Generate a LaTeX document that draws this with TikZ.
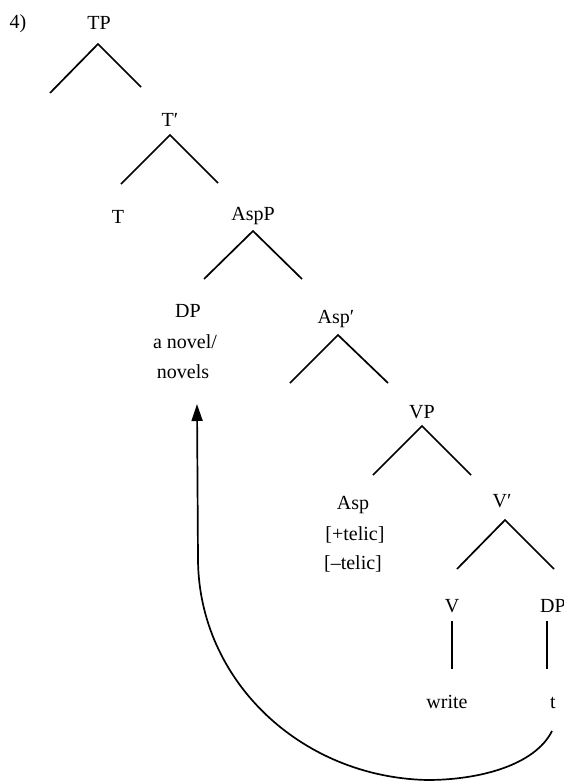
\documentclass[tikz,border=0pt]{standalone}
\usepackage{fontspec}
\setmainfont{Liberation Serif}
\usetikzlibrary{arrows.meta}
\begin{document}
\begin{tikzpicture}[x=1pt,y=-1pt,
  lab/.style={anchor=base,inner sep=0pt,font=\fontsize{20}{24}\selectfont},
  branch/.style={line width=1.7pt,line cap=butt},
  move/.style={line width=1.7pt,-{Triangle[length=17pt,width=11pt]}}]
\clip (0,0) rectangle (564,782);
\useasboundingbox (0,0) rectangle (564,782);
% labels
\node[lab] (num) at (18,28) {4)};
\node[lab] (TP) at (99,29) {TP};
\node[lab] (Tbar) at (170,126) {T′};
\node[lab] (T) at (118,223) {T};
\node[lab] (AspP) at (253,220) {AspP};
\node[lab] (DP) at (188,317) {DP};
\node[lab] (nov1) at (185,348) {a novel/};
\node[lab] (nov2) at (183,378) {novels};
\node[lab] (Aspbar) at (336,323) {Asp′};
\node[lab] (VP) at (422,418) {VP};
\node[lab] (Asp) at (353,509) {Asp};
\node[lab] (tel1) at (355,540) {[+telic]};
\node[lab] (tel2) at (353,569) {[–telic]};
\node[lab] (Vbar) at (502,507) {V′};
\node[lab] (V) at (452,612) {V};
\node[lab] (DPt) at (553,612) {DP};
\node[lab] (write) at (447,708) {write};
\node[lab] (t) at (553,708) {t};
% branch points
\coordinate (TPa) at (98,44);   \coordinate (TPl) at (50,93);   \coordinate (TPr) at (141,87);
\coordinate (Tba) at (170,135); \coordinate (Tbl) at (121,184); \coordinate (Tbr) at (218,183);
\coordinate (APa) at (253,231); \coordinate (APl) at (204,279); \coordinate (APr) at (302,279);
\coordinate (Aba) at (338,335); \coordinate (Abl) at (290,383); \coordinate (Abr) at (388,383);
\coordinate (VPa) at (422,426); \coordinate (VPl) at (373,475); \coordinate (VPr) at (471,475);
\coordinate (Vba) at (505,520); \coordinate (Vbl) at (457,569); \coordinate (Vbr) at (554,569);
\coordinate (Vt) at (452,621);  \coordinate (Vb) at (452,669);
\coordinate (Dt) at (547,621);  \coordinate (Db) at (547,669);
\draw[branch] (TPl) -- (TPa) -- (TPr);
\draw[branch] (Tbl) -- (Tba) -- (Tbr);
\draw[branch] (APl) -- (APa) -- (APr);
\draw[branch] (Abl) -- (Aba) -- (Abr);
\draw[branch] (VPl) -- (VPa) -- (VPr);
\draw[branch] (Vbl) -- (Vba) -- (Vbr);
\draw[branch] (Vt) -- (Vb);
\draw[branch] (Dt) -- (Db);
% movement arrow
\coordinate (tfoot) at (552,731);
\coordinate (bottom) at (427,780);
\coordinate (bend) at (198,560);
\coordinate (dphead) at (197,404);
\draw[move] (tfoot) .. controls (535,765) and (480,780) .. (bottom)
  .. controls (300,777) and (199,680) .. (bend) -- (dphead);
\end{tikzpicture}
\end{document}
